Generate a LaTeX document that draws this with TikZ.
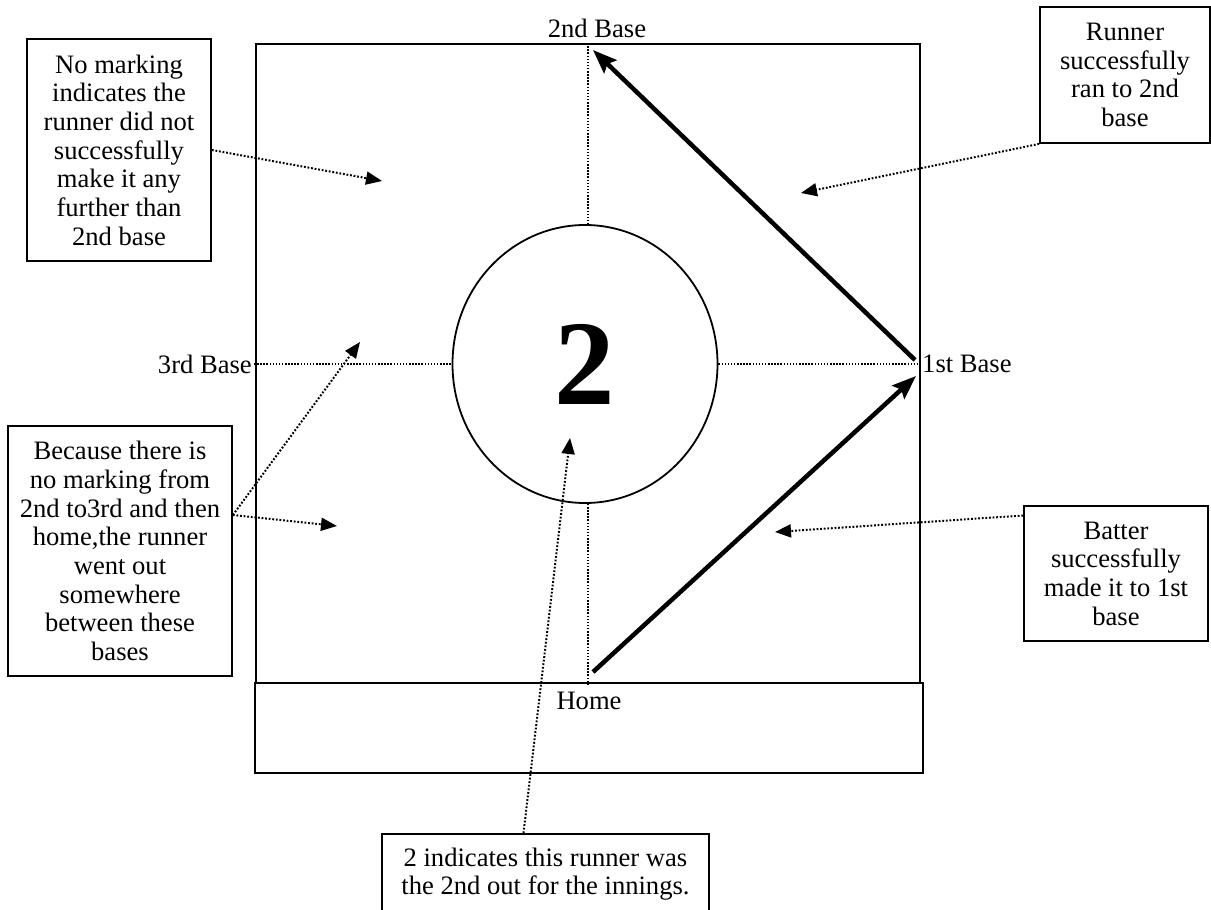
\documentclass[tikz,border=0pt]{standalone}
\usepackage{fontspec}
\setmainfont{Liberation Serif}
\usetikzlibrary{
		positioning,
		arrows.meta,
		shapes.geometric
	}
\newcommand{\notefont}{\fontsize{26.6}{28.7}\selectfont}
\newcommand{\outfont}{\fontsize{121}{121}\selectfont\bfseries}
\tikzset{
		>=Stealth,
		note/.style={draw, line width=1.8pt, align=center, inner sep=0pt, font=\notefont},
		basename/.style={font=\notefont, inner sep=2pt},
		baseline dots/.style={line width=1.5pt, dash pattern=on 1.5pt off 1.6pt},
		pointer/.style={line width=2pt, dash pattern=on 1.8pt off 1.8pt, -{Triangle[length=16pt,width=13pt]}},
		run/.style={line width=4.5pt, -{Stealth[length=24pt,width=18pt,inset=4pt]}}
	}

\begin{document}
\begin{tikzpicture}[x=1pt, y=-1pt]
		\useasboundingbox (0,0) rectangle (1211,910);
		\clip (0,0) rectangle (1211,910);
		% field, home strip and the out ring
		\node[draw, line width=1.8pt, minimum width=664pt, minimum height=639pt] (field) at (588,363.5) {};
		\node[draw, line width=1.8pt, minimum width=668pt, minimum height=90pt] (homebox) at (589,728) {};
		\node[ellipse, draw, line width=1.8pt, minimum width=265pt, minimum height=278pt, inner sep=0pt, font=\outfont] (ring) at (585,364) {2};
		% base names
		\node[basename] (second) at (597,28) {2nd Base};
		\node[basename, anchor=east] (third) at (254,364) {3rd Base};
		\node[basename, anchor=west] (first) at (920,364) {1st Base};
		\node[basename, below=8pt of homebox.north] (home) {Home};
		\draw[baseline dots] (field.north) -- (field.north |- ring.north);
		\draw[baseline dots] (field.south |- ring.south) -- (field.south);
		\draw[baseline dots] (third.east) -- (ring.west);
		\draw[baseline dots] (ring.east) -- (first.west);
		% the runner's path
		\coordinate (homeplate) at (593,672);
		\coordinate (firstin) at (916,376);
		\coordinate (firstout) at (915,360);
		\coordinate (secondin) at (593,50);
		\draw[run] (homeplate) -- (firstin);
		\draw[run] (firstout) -- (secondin);
		% notes
		\node[note, minimum width=184pt, minimum height=222pt] (nomark) at (119,150) {No marking\\indicates the\\runner did not\\successfully\\make it any\\further than\\2nd base};
		\node[note, minimum width=170pt, minimum height=136pt] (toSecond) at (1125,75) {Runner\\successfully\\ran to 2nd\\base};
		\node[note, minimum width=224pt, minimum height=250pt] (between) at (120,551) {Because there is\\no marking from\\2nd to3rd and then\\home,the runner\\went out\\somewhere\\between these\\bases};
		\node[note, minimum width=184pt, minimum height=135pt] (toFirst) at (1116,573.5) {Batter\\successfully\\made it to 1st\\base};
		\node[note, minimum width=327pt, minimum height=80pt] (outnote) at (545.5,874) {2 indicates this runner was\\the 2nd out for the innings.};
		\coordinate (aimNomark) at (382,181);
		\coordinate (aimSecond) at (801,193);
		\coordinate (aimThird) at (360,342);
		\coordinate (aimHome) at (337,526);
		\coordinate (aimFirst) at (775,532);
		\coordinate (aimRing) at (570,438);
		\draw[pointer] (nomark.east) -- (aimNomark);
		\draw[pointer] (toSecond.south west) -- (aimSecond);
		\draw[pointer] ([yshift=36pt]between.east) -- (aimThird);
		\draw[pointer] ([yshift=36pt]between.east) -- (aimHome);
		\draw[pointer] ([yshift=58pt]toFirst.west) -- (aimFirst);
		\draw[pointer] ([xshift=-22pt]outnote.north) -- (aimRing);
	\end{tikzpicture}
\end{document}
